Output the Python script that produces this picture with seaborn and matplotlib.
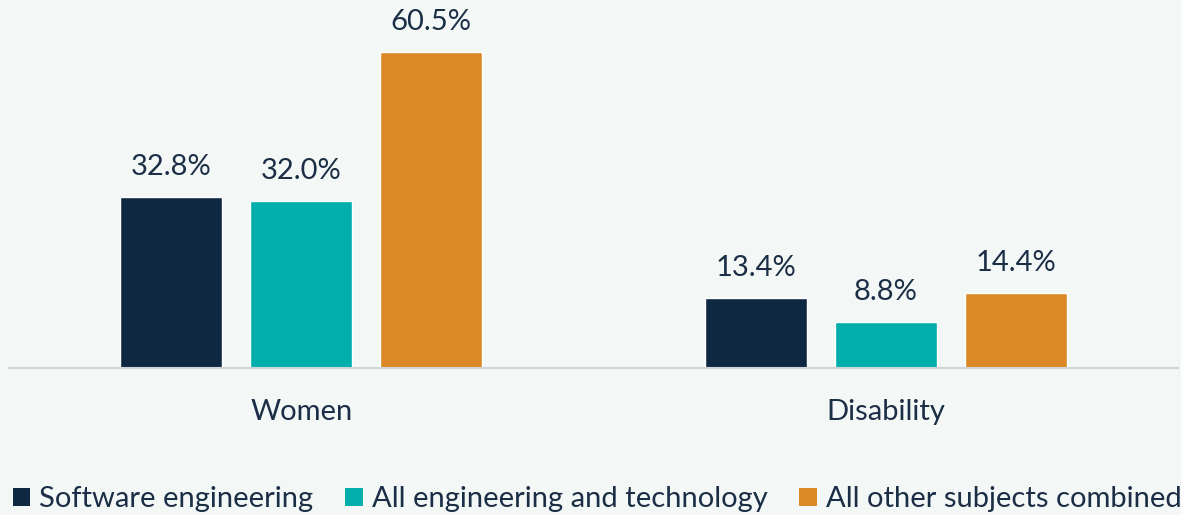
import matplotlib
matplotlib.use("Agg")
import matplotlib.pyplot as plt
import seaborn as sns
import pandas as pd
from matplotlib.patches import Patch

# data
groups = ["Women", "Disability"]
series = ["Software engineering", "All engineering and technology", "All other subjects combined"]
software = [32.8, 13.4]
all_eng = [32.0, 8.8]
other = [60.5, 14.4]
colors = ["#0F2842", "#00AFAC", "#DB8826"]

bg = "#F3F8F7"
text_col = "#1B2E45"

rows = []
for name, vals in zip(series, [software, all_eng, other]):
    for g, v in zip(groups, vals):
        rows.append({"group": g, "series": name, "value": v})
df = pd.DataFrame(rows)

sns.set_style("white")
plt.rcParams["font.family"] = ["Lato", "DejaVu Sans"]

fig = plt.figure(figsize=(11.81, 5.15), dpi=100, facecolor=bg)
ax = fig.add_axes([0.0076, 0.2854, 0.99, 0.68])
ax.set_facecolor(bg)

sns.barplot(data=df, x="group", y="value", hue="series", hue_order=series,
            palette=colors, width=0.667, gap=0.216, saturation=1,
            legend=False, ax=ax)

for cont in ax.containers:
    ax.bar_label(cont, labels=[f"{v:.1f}%" for v in cont.datavalues],
                 padding=12, fontsize=21, color=text_col)

ax.set_xlim(-0.5, 1.5)
ax.set_ylim(0, 67)
ax.set_xlabel("")
ax.set_ylabel("")
ax.set_yticks([])
ax.tick_params(axis="x", length=0, pad=22, labelsize=21, labelcolor=text_col)
for s in ["top", "right", "left"]:
    ax.spines[s].set_visible(False)
ax.spines["bottom"].set_color("#D0D4D6")
ax.spines["bottom"].set_linewidth(1.5)

handles = [Patch(facecolor=c, edgecolor="none") for c in colors]
fig.legend(handles, series, loc="lower left", bbox_to_anchor=(0.0085, 0.0),
           ncol=3, frameon=False, fontsize=21, labelcolor=text_col,
           handlelength=0.6, handleheight=0.6, handletextpad=0.3,
           columnspacing=1.1, borderpad=0.0, borderaxespad=0.1)

fig.savefig("out.png", dpi=100, facecolor=bg)
